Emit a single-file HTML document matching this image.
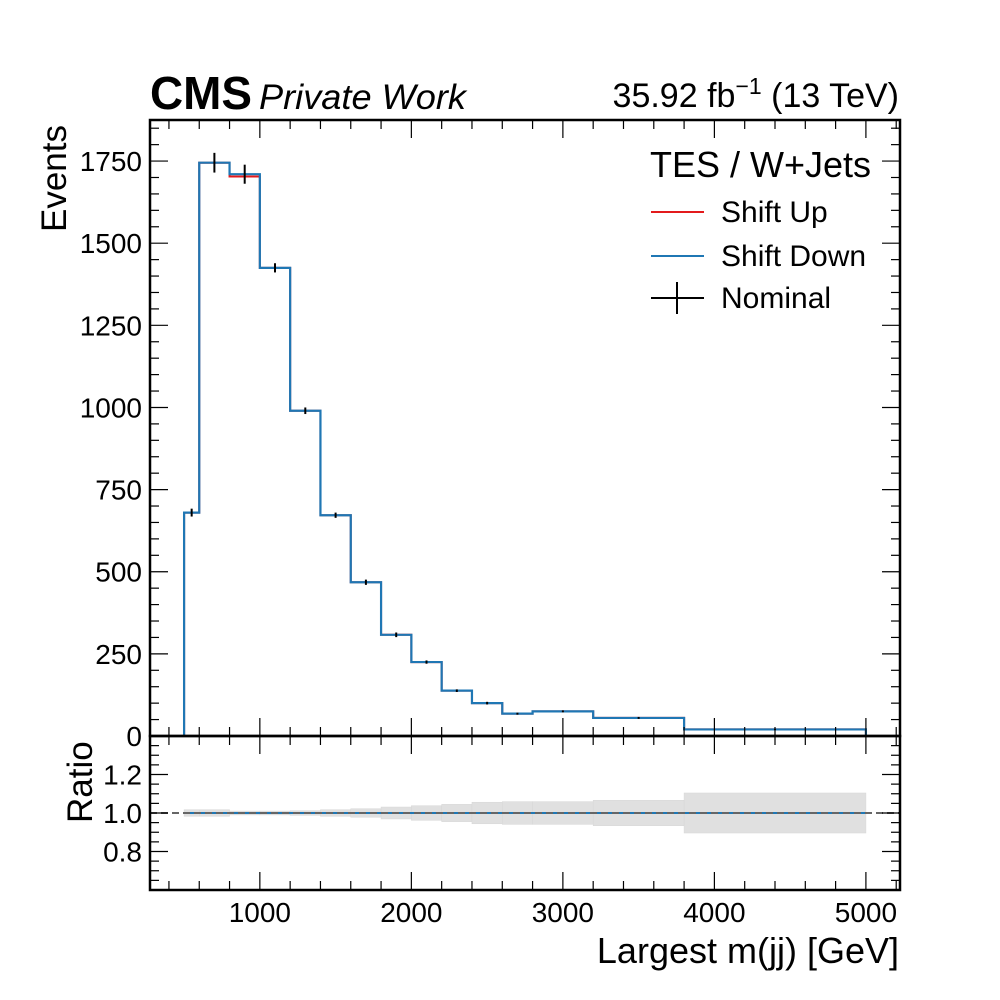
<!DOCTYPE html>
<html><head><meta charset="utf-8"><style>
html,body{margin:0;padding:0;background:#fff}
svg{display:block;font-family:"Liberation Sans",Arial,sans-serif}
</style></head><body>
<svg id="chart" width="1000" height="1000" viewBox="0 0 1000 1000" xmlns="http://www.w3.org/2000/svg">
<text x="150" y="109" font-size="46" font-weight="bold" textLength="102" lengthAdjust="spacingAndGlyphs">CMS</text>
<text x="259" y="109" font-size="35" font-style="italic" textLength="207" lengthAdjust="spacingAndGlyphs">Private Work</text>
<text x="899" y="107" font-size="34" text-anchor="end">35.92 fb<tspan dy="-13" font-size="23">−1</tspan><tspan dy="13"> (13 TeV)</tspan></text>
<g id="main"></g>
<g id="ratio"></g>
<text transform="translate(66,232) rotate(-90)" font-size="35">Events</text>
<text transform="translate(92,823) rotate(-90)" font-size="35">Ratio</text>
<text x="899" y="963" font-size="36" text-anchor="end">Largest m(jj) [GeV]</text>
<g>
<text x="650" y="177" font-size="36">TES / W+Jets</text>
<line x1="651" y1="212" x2="704" y2="212" stroke="#e31a1c" stroke-width="2"/>
<text x="721" y="222" font-size="30">Shift Up</text>
<line x1="651" y1="256" x2="704" y2="256" stroke="#1f77b4" stroke-width="2"/>
<text x="721" y="266" font-size="30">Shift Down</text>
<line x1="651" y1="298" x2="704" y2="298" stroke="#000" stroke-width="2"/>
<line x1="677" y1="282" x2="677" y2="314" stroke="#000" stroke-width="2"/>
<text x="721" y="308" font-size="30">Nominal</text>
</g>
</svg>
<script>
const binEdges=[500,600,800,1000,1200,1400,1600,1800,2000,2200,2400,2600,2800,3200,3800,5000];
const nominal=[680,1745,1710,1425,990,672,468,308,225,138,100,68,75,55,20];
const shiftUp=[680,1745,1703,1425,990,672,468,308,225,138,100,68,75,55,20];
const shiftDown=[680,1745,1710,1425,990,672,468,308,225,138,100,68,75,55,20];
const nominalErr=[12,30,29,14,10,8,8,7,5,4,4,3,3,3,2];
const ratioErr=[0.017,0.017,0.010,0.010,0.012,0.017,0.022,0.031,0.038,0.045,0.056,0.059,0.059,0.066,0.104];
const yTicks=[0,250,500,750,1000,1250,1500,1750];
const xTicks=[1000,2000,3000,4000,5000];
const rTicks=[0.8,1.0,1.2];

const NS="http://www.w3.org/2000/svg";
const L=150,R=900,T=120,M=736,B=890;
const xMin=275,xMax=5225,yMax=1875,rMin=0.6,rMax=1.4;
const X=v=>L+(v-xMin)/(xMax-xMin)*(R-L);
const Y=v=>M-v/yMax*(M-T);
const RY=v=>B-(v-rMin)/(rMax-rMin)*(B-M);
function mk(parent,tag,attrs){const e=document.createElementNS(NS,tag);for(const k in attrs)e.setAttribute(k,attrs[k]);parent.appendChild(e);return e;}
const main=document.getElementById('main'),ratio=document.getElementById('ratio');

function stepPath(vals){let d=`M${X(binEdges[0])},${Y(0)}`;vals.forEach((v,i)=>{d+=` L${X(binEdges[i])},${Y(v)} L${X(binEdges[i+1])},${Y(v)}`;});d+=` L${X(binEdges[binEdges.length-1])},${Y(0)}`;return d;}
let p=mk(main,'path',{d:stepPath(shiftUp),fill:'none',stroke:'#e31a1c','stroke-width':2});


p=mk(main,'path',{d:stepPath(shiftDown),fill:'none',stroke:'#1f77b4','stroke-width':2.2});


nominal.forEach((v,i)=>{const c=X((binEdges[i]+binEdges[i+1])/2);
 const e=mk(main,'line',{x1:c,x2:c,y1:Y(v-nominalErr[i]),y2:Y(v+nominalErr[i]),stroke:'#000','stroke-width':2});
 
 });

ratioErr.forEach((r,i)=>{const x1=X(binEdges[i]),x2=X(binEdges[i+1]);
 const b=mk(ratio,'rect',{x:x1,y:RY(1+r),width:x2-x1,height:RY(1-r)-RY(1+r),fill:'#e0e0e0',stroke:'#d6d6d6','stroke-width':0.5});
 
 });
let rl=mk(ratio,'line',{x1:X(500),x2:X(5000),y1:RY(1),y2:RY(1),stroke:'#1f77b4','stroke-width':2});


rl=mk(ratio,'line',{x1:L,x2:R,y1:RY(1),y2:RY(1),stroke:'#666','stroke-width':2,'stroke-dasharray':'7,4'});



function tick(g,x1,y1,x2,y2){const t=mk(g,'line',{x1,y1,x2,y2,stroke:'#000','stroke-width':1.2});}
for(let v=0;v<=xMax;v+=200){if(v<xMin)continue;const x=X(v);const maj=v%1000===0;const l=maj?18:9;
 tick(main,x,M,x,M-l);tick(main,x,T,x,T+l);tick(ratio,x,B,x,B-l);tick(ratio,x,M,x,M+l);}
for(let v=0;v<=yMax;v+=50){const y=Y(v);const maj=v%250===0;const l=maj?18:9;tick(main,L,y,L+l,y);tick(main,R,y,R-l,y);}
for(let k=12;k<=28;k++){const v=k*0.05;const y=RY(v);const maj=k%4===0;const l=maj?18:9;tick(ratio,L,y,L+l,y);tick(ratio,R,y,R-l,y);}
yTicks.forEach(v=>{const t=mk(main,'text',{x:L-8,y:Y(v)+10,'font-size':28,'text-anchor':'end'});t.textContent=v;
 });
rTicks.forEach(v=>{const t=mk(ratio,'text',{x:L-8,y:RY(v)+10,'font-size':28,'text-anchor':'end'});t.textContent=v.toFixed(1);
 });
xTicks.forEach(v=>{const t=mk(ratio,'text',{x:X(v),y:B+32,'font-size':28,'text-anchor':'middle'});t.textContent=v;
 });
let f=mk(main,'rect',{x:L,y:T,width:R-L,height:M-T,fill:'none',stroke:'#000','stroke-width':2.5});

f=mk(ratio,'rect',{x:L,y:M,width:R-L,height:B-M,fill:'none',stroke:'#000','stroke-width':2.5});

</script>
</body></html>
